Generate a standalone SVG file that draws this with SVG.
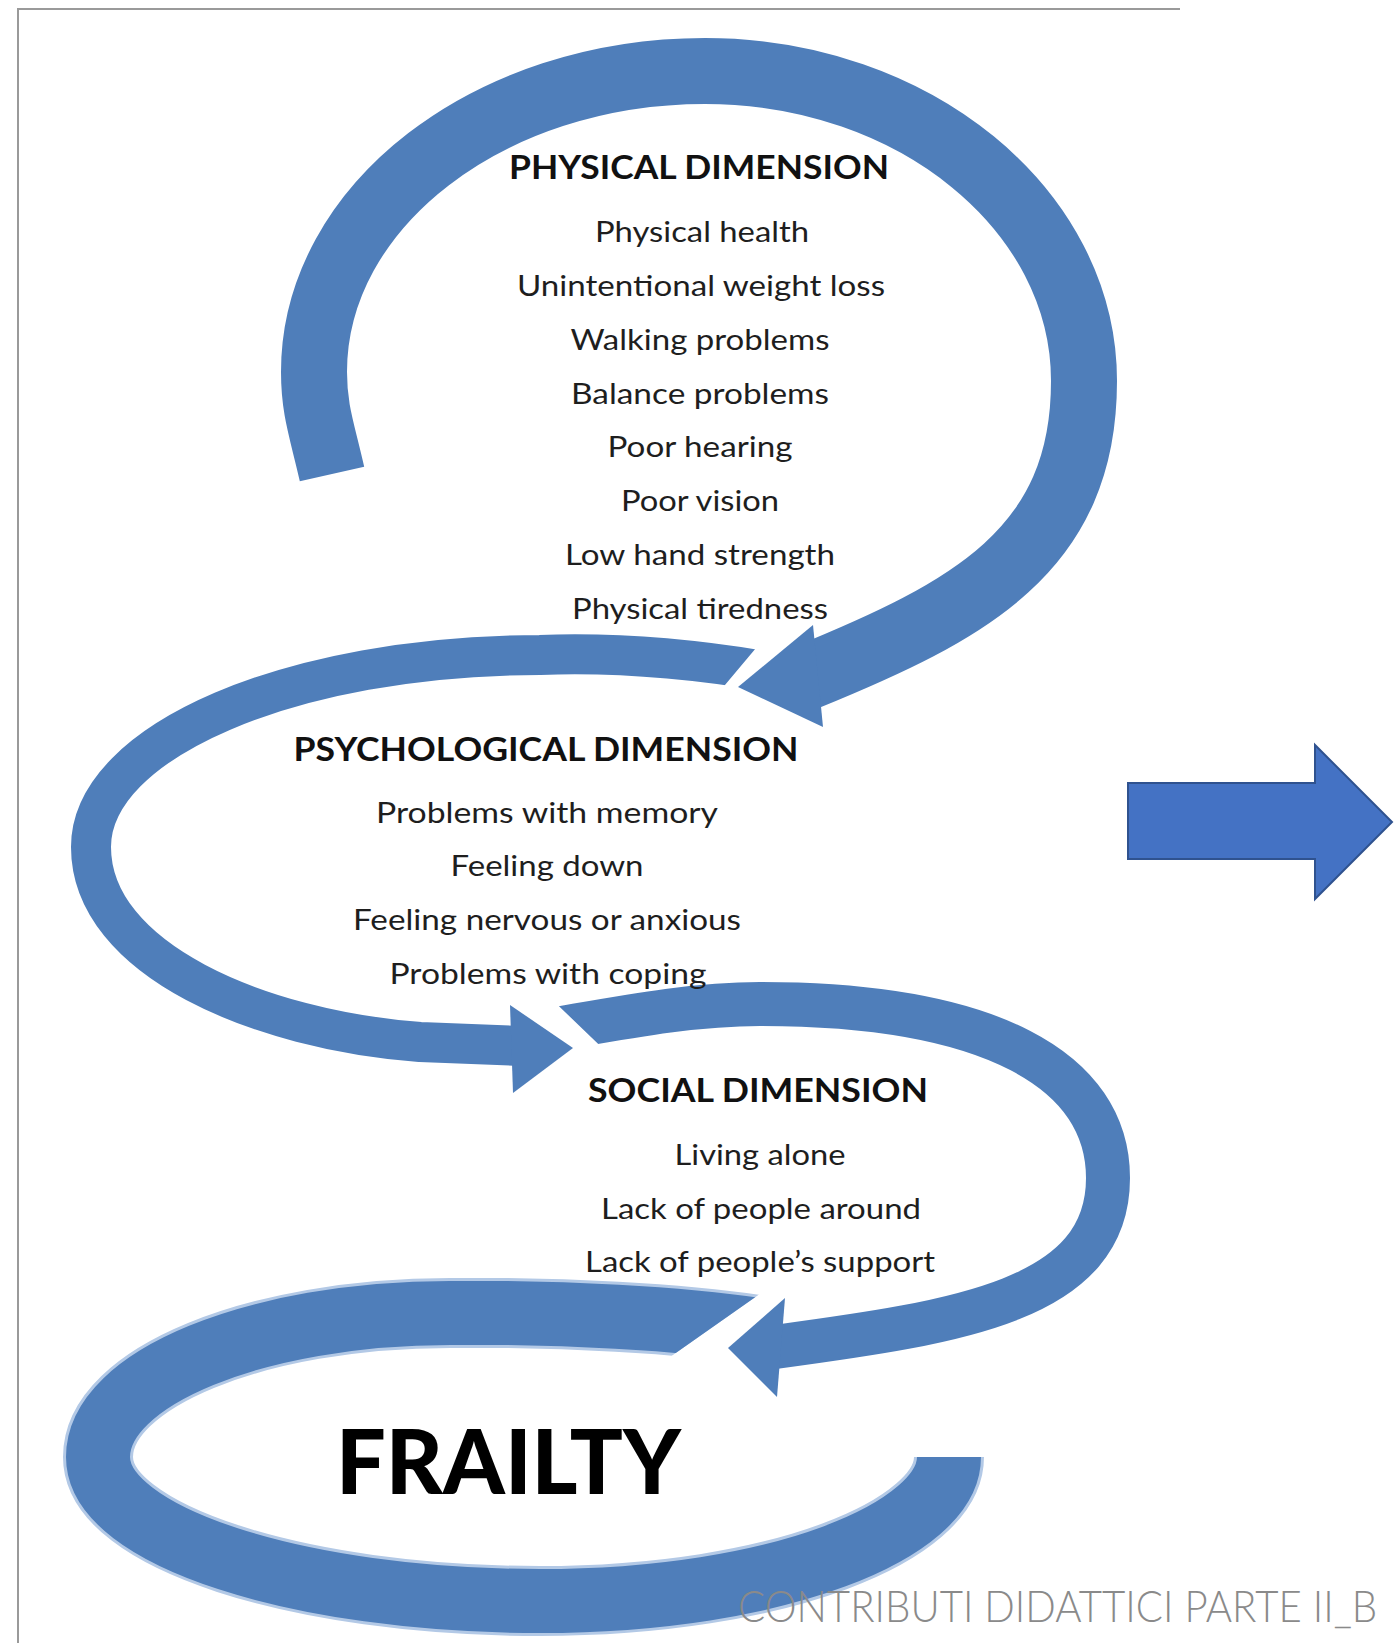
<svg xmlns="http://www.w3.org/2000/svg" width="1399" height="1643" viewBox="0 0 1399 1643">
  <style>
    .band { fill: none; stroke: #4f7eba; stroke-linecap: butt; stroke-linejoin: round; }
    .head { fill: #4f7eba; }
    .halo { fill: none; stroke: #b3c9e6; stroke-linecap: butt; }
    .hd { font-family: Lato, "Open Sans", "Liberation Sans", sans-serif; font-weight: 700; font-size: 33px; fill: #111; text-anchor: middle; }
    .it { font-family: Lato, "Open Sans", "Liberation Sans", sans-serif; font-weight: 400; font-size: 28px; fill: #1e1e1e; text-anchor: middle; }
    .big { font-family: Lato, "Open Sans", "Liberation Sans", sans-serif; font-weight: 900; font-size: 90px; fill: #000; }
    .foot { font-family: Lato, "Open Sans", "Liberation Sans", sans-serif; font-weight: 300; font-size: 44px; fill: #8a8a8a; }
  </style>
  <defs>
    <!-- slanted cuts where each band starts next to the previous arrowhead -->
    <clipPath id="cut2"><path clip-rule="evenodd" d="M0,0H1399V1643H0Z M766,636 L709,704 L860,704 L860,636Z"/></clipPath>
    <clipPath id="cut3"><path clip-rule="evenodd" d="M0,0H1399V1643H0Z M539,987 L618,1063 L440,1063 L440,987Z"/></clipPath>
    <clipPath id="cut4"><path clip-rule="evenodd" d="M0,0H1399V1643H0Z M774,1284 L653,1369 L900,1369 L900,1284Z"/></clipPath>
  </defs>

  <rect width="1399" height="1643" fill="#fff"/>

  <!-- page frame -->
  <path d="M18,1643 V9 H1180" fill="none" stroke="#9a9a9a" stroke-width="2"/>

  <g id="connectors">
    <!-- frailty loop (ends open, no head) -->
    <g clip-path="url(#cut4)">
      <path class="halo" stroke-width="70" d="M765,1331 C680,1318 560,1312 450,1313 C256,1313 98,1378 98,1457 C98,1536 297,1601 540,1601 C780,1601 949,1530 949,1457"/>
      <path class="band" stroke-width="64" d="M765,1331 C680,1318 560,1312 450,1313 C256,1313 98,1378 98,1457 C98,1536 297,1601 540,1601 C780,1601 949,1530 949,1457"/>
    </g>
    <!-- social loop -> frailty -->
    <g clip-path="url(#cut3)">
      <path class="band" stroke-width="44" d="M550,1030 C620,1018 690,1004 760,1004 C990,1004 1108,1070 1108,1178 C1108,1300 960,1322 775,1347"/>
    </g>
    <polygon class="head" points="785,1298 728,1348 777,1397"/>
    <!-- psychological loop -> social -->
    <g clip-path="url(#cut2)">
      <path class="band" stroke-width="40" d="M770,672 C700,660 620,652 540,655 C292,655 91,741 91,847 C91,960 260,1030 420,1042 L520,1046"/>
    </g>
    <polygon class="head" points="510,1005 573,1048 513,1093"/>
    <!-- physical loop -> psychological -->
    <path class="band" stroke-width="66" d="M332,474 C322,430 314,410 314,372 C314,206 489,71 705,71 C914,71 1084,210 1084,381 C1084,551 969,611 805,678"/>
    <polygon class="head" points="813,625 738,687 823,727"/>
    <!-- block arrow on the right -->
    <polygon points="1128,783 1315,783 1315,745 1392,822 1315,899 1315,859 1128,859" fill="#4472c4" stroke="#2f528f" stroke-width="2"/>
  </g>

  <g id="physical">
    <text class="hd" x="699" y="179" textLength="380" lengthAdjust="spacingAndGlyphs">PHYSICAL DIMENSION</text>
    <text class="it" x="702" y="242" textLength="214" lengthAdjust="spacingAndGlyphs">Physical health</text>
    <text class="it" x="701" y="296" textLength="368" lengthAdjust="spacingAndGlyphs">Unintentional weight loss</text>
    <text class="it" x="700" y="350" textLength="259" lengthAdjust="spacingAndGlyphs">Walking problems</text>
    <text class="it" x="700" y="404" textLength="258" lengthAdjust="spacingAndGlyphs">Balance problems</text>
    <text class="it" x="700" y="457" textLength="185" lengthAdjust="spacingAndGlyphs">Poor hearing</text>
    <text class="it" x="700" y="511" textLength="158" lengthAdjust="spacingAndGlyphs">Poor vision</text>
    <text class="it" x="700" y="565" textLength="270" lengthAdjust="spacingAndGlyphs">Low hand strength</text>
    <text class="it" x="700" y="619" textLength="256" lengthAdjust="spacingAndGlyphs">Physical tiredness</text>
  </g>

  <g id="psychological">
    <text class="hd" x="546" y="761" textLength="505" lengthAdjust="spacingAndGlyphs">PSYCHOLOGICAL DIMENSION</text>
    <text class="it" x="547" y="823" textLength="342" lengthAdjust="spacingAndGlyphs">Problems with memory</text>
    <text class="it" x="547" y="876" textLength="193" lengthAdjust="spacingAndGlyphs">Feeling down</text>
    <text class="it" x="547" y="930" textLength="388" lengthAdjust="spacingAndGlyphs">Feeling nervous or anxious</text>
    <text class="it" x="548" y="984" textLength="317" lengthAdjust="spacingAndGlyphs">Problems with coping</text>
  </g>

  <g id="social">
    <text class="hd" x="758" y="1102" textLength="340" lengthAdjust="spacingAndGlyphs">SOCIAL DIMENSION</text>
    <text class="it" x="760" y="1165" textLength="171" lengthAdjust="spacingAndGlyphs">Living alone</text>
    <text class="it" x="761" y="1219" textLength="320" lengthAdjust="spacingAndGlyphs">Lack of people around</text>
    <text class="it" x="760" y="1272" textLength="350" lengthAdjust="spacingAndGlyphs">Lack of people’s support</text>
  </g>

  <g id="frailty">
    <text class="big" x="336" y="1494" textLength="345" lengthAdjust="spacingAndGlyphs">FRAILTY</text>
  </g>

  <!-- footer, narrowed horizontally -->
  <text class="foot" transform="translate(738,1622) scale(0.85,1)" x="0" y="0" textLength="752" lengthAdjust="spacingAndGlyphs">CONTRIBUTI DIDATTICI PARTE II_B</text>
</svg>
